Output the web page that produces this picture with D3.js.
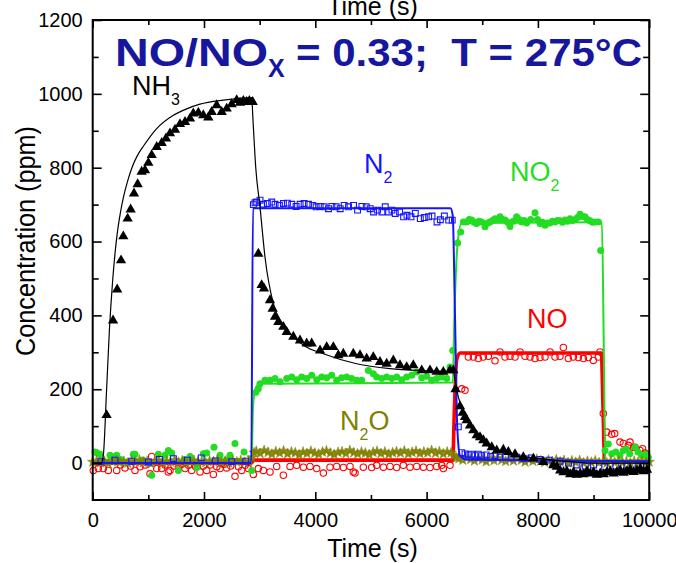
<!DOCTYPE html>
<html>
<head>
<meta charset="utf-8">
<script src="https://cdn.jsdelivr.net/npm/d3@7"></script>
<style>
  html, body { margin: 0; padding: 0; background: #fff; }
  svg { display: block; font-family: "Liberation Sans", Arial, sans-serif; }
</style>
</head>
<body>
<svg id="chart" width="676" height="563"></svg>
<script>
// ---- Axis ticks ----
const xMajor = [0, 2000, 4000, 6000, 8000, 10000];
const xMinor = [1000, 3000, 5000, 7000, 9000];
const xTickLabels = ["0", "2000", "4000", "6000", "8000", "10000"];
const yMajor = [0, 200, 400, 600, 800, 1000, 1200];
const yMinor = [100, 300, 500, 700, 900, 1100];
const yTickLabels = ["0", "200", "400", "600", "800", "1000", "1200"];

// ---- NH3: measured (triangles) and model (line), [time s, ppm] ----
const nh3Points = [
  [250,130],[366,386],[440,470],[509,549],[550,614],[628,662],[682,687],[742,730],[808,755],
  [880,789],[940,793],[1000,813],[1060,834],[1150,856],[1240,867],[1317,879],[1389,893],
  [1479,903],[1569,918],[1659,924],[1749,933],[1808,947],[1898,949],[1987,942],[2077,936],
  [2138,951],[2228,969],[2318,951],[2408,960],[2497,972],[2587,983],[2647,976],[2707,981],
  [2767,978],[2815,981],[2875,978],
  [2976,567],[3036,482],[3078,473],[3186,441],[3234,418],[3276,396],[3336,382],[3425,369],
  [3486,355],[3605,342],[3725,332],[3845,324],[3935,324],[4085,305],[4205,314],[4324,314],
  [4414,292],[4503,296],[4683,296],[4803,292],[4923,283],[5042,287],[5162,274],[5282,269],
  [5402,278],[5522,265],[5642,260],[5761,265],[5912,251],[6061,251],[6181,247],[6301,247],
  [6420,251],[6480,251],
  [6520,200],[6600,154],[6648,136],[6690,125],[6720,116],[6780,102],[6840,89],[6900,75],
  [6960,70],[7019,62],[7079,53],[7170,43],[7260,34],[7379,36],[7469,30],[7589,24],[7738,16],
  [7918,12],[8097,3],[8277,-6],[8340,-10],[8400,-20],[8460,-25],[8520,-22],[8580,-30],
  [8640,-25],[8700,-32],[8760,-28],[8820,-30],[8880,-22],[8940,-28],[9000,-25],[9060,-32],
  [9120,-28],[9180,-30],[9240,-25],[9300,-22],[9360,-28],[9420,-24],[9480,-20],[9540,-26],
  [9600,-22],[9660,-18],[9720,-24],[9780,-20],[9840,-16],[9900,-22],[9960,-18]
];
const nh3Model = [
  [0,0],[150,0],[190,20],[250,200],[300,360],[359,495],[431,610],[500,680],[560,725],
  [630,765],[700,798],[800,832],[910,858],[1150,906],[1450,942],[1700,960],[1928,972],
  [2347,983],[2857,990],[2880,930],[2930,800],[3006,694],[3096,558],[3246,432],[3400,380],
  [3545,351],[3800,318],[4144,296],[4743,269],[5342,256],[6000,250],[6480,247],[6520,215],
  [6570,179],[6700,125],[6840,89],[7000,60],[7140,43],[7440,25],[8038,12],[8636,3],
  [9000,0],[10000,0]
];

// ---- N2 ----
const n2Points = [
  [150,5],[400,8],[700,5],[1000,3],[1200,10],[1450,12],[1700,8],[1950,14],[2200,6],[2500,4],[2750,5],
  [2887,700],[2917,705],[2947,707],[3007,712],[3067,701],[3139,703],[3217,707],[3277,701],
  [3355,698],[3427,703],[3499,704],[3577,701],[3655,695],[3727,701],[3799,703],[3877,701],
  [3955,698],[4015,694],[4087,695],[4159,694],[4237,689],[4297,695],[4375,694],[4447,689],
  [4519,698],[4597,694],[4687,698],[4759,685],[4837,695],[4915,694],[4987,689],[5047,680],
  [5119,685],[5197,680],[5257,694],[5317,680],[5377,685],[5437,676],[5515,680],[5587,667],
  [5647,671],[5719,667],[5797,676],[5887,662],[5959,665],[6037,667],[6097,669],[6187,653],
  [6247,659],[6319,669],[6397,658],[6460,658],
  [6570,98],[6630,28],[6690,25],[6750,22],[6810,24],[6870,20],[6930,24],[6990,20],[7070,22],
  [7150,18],[7230,20],[7320,16],[7420,18],[7520,14],[7620,16],[7750,12],[7880,14],[8030,10],
  [8200,8],[8400,5],[8550,0],[8700,-5],[8850,-8],[9000,-5],[9200,-10],[9400,-8],[9600,-5],
  [9800,-8],[9950,-5]
];
const n2Model = [
  [0,0],[2850,0],[2880,690],[6430,690],[6470,670],[6510,400],[6550,100],[6600,20],
  [6700,10],[10000,5]
];

// ---- NO2 ----
const no2Points = [
  [41,30],[72,28],[131,24],[200,5],[311,21],[341,18],[431,21],[500,10],[600,2],[730,24],
  [760,24],[900,8],[1060,-33],[1180,24],[1299,21],[1359,34],[1419,27],[1539,-20],[1650,10],
  [1749,18],[1869,-12],[1988,25],[2048,27],[2180,43],[2288,21],[2400,8],[2467,21],[2557,53],
  [2600,5],[2719,30],[2857,-20],
  [2934,192],[2976,201],[3006,215],[3096,224],[3186,224],[3276,229],[3366,220],[3486,229],
  [3575,233],[3665,226],[3755,233],[3845,229],[3935,238],[4025,226],[4115,233],[4204,231],
  [4294,238],[4384,224],[4474,231],[4564,233],[4654,229],[4744,224],[4833,224],[4953,251],
  [5043,242],[5103,233],[5193,229],[5283,233],[5373,229],[5463,233],[5552,226],[5642,233],
  [5732,238],[5822,247],[5912,231],[6001,235],[6091,224],[6181,229],[6271,233],[6361,229],
  [6421,260],[6469,305],
  [6558,596],[6612,626],[6660,653],[6720,653],[6765,660],[6810,658],[6855,652],[6900,649],
  [6945,655],[6989,653],[7049,640],[7100,650],[7139,653],[7184,657],[7229,662],[7274,660],
  [7319,667],[7364,660],[7409,658],[7454,652],[7499,641],[7560,655],[7618,667],[7663,660],
  [7708,653],[7753,657],[7798,650],[7870,660],[7948,678],[7993,660],[8038,649],[8083,652],
  [8128,644],[8173,650],[8217,650],[8262,655],[8307,653],[8352,657],[8397,656],[8442,652],
  [8487,658],[8532,655],[8577,662],[8622,657],[8667,660],[8712,665],[8757,674],[8800,668],
  [8846,667],[8890,660],[8936,656],[8980,652],[9026,653],[9086,653],[9128,576],
  [9206,34],[9265,52],[9326,25],[9400,30],[9475,21],[9535,34],[9590,38],[9650,25],
  [9745,43],[9800,30],[9865,21],[9930,24],[9984,16]
];
const no2Model = [
  [0,0],[2855,0],[2880,150],[2920,200],[3000,215],[6470,218],[6500,400],[6560,600],
  [6630,650],[9150,652],[9185,300],[9210,0],[10000,0]
];

// ---- NO ----
const noPoints = [
  [11,-20],[101,-15],[191,-15],[281,-20],[431,-20],[500,-5],[580,-13],[680,-8],[760,-20],
  [850,-10],[940,-5],[1030,-29],[1060,18],[1150,-15],[1239,-15],[1300,-5],[1359,-24],
  [1389,-20],[1460,-8],[1539,-13],[1600,-3],[1659,-15],[1720,-6],[1778,-20],[1850,-10],
  [1928,-24],[1990,-8],[2048,-20],[2110,-5],[2168,-31],[2230,-10],[2288,-15],[2350,-4],
  [2407,-13],[2480,-8],[2557,-36],[2620,-10],[2677,-20],[2740,-6],[2797,-15],[2887,-31],
  [2976,-15],[3066,-20],[3186,-24],[3306,-9],[3426,-33],[3546,-9],[3665,-6],[3785,-11],
  [3905,-9],[4025,-15],[4145,-27],[4264,-11],[4384,-9],[4504,-12],[4624,-9],[4683,-24],
  [4714,-27],[4863,-11],[5013,-12],[5103,-6],[5223,-11],[5343,-9],[5462,-12],[5582,-6],
  [5702,-11],[5822,-9],[5942,-11],[6061,-12],[6181,-9],[6271,-6],[6301,-15],[6421,-6],
  [6630,201],[6690,197],
  [6750,287],[6840,287],[6930,283],[7020,287],[7110,289],[7229,277],[7319,301],[7409,287],
  [7499,289],[7589,287],[7679,301],[7768,289],[7858,287],[7948,283],[8038,286],[8128,287],
  [8218,301],[8308,287],[8397,289],[8457,313],[8547,283],[8637,287],[8727,286],[8817,283],
  [8907,286],[8996,278],[9086,287],[9116,301],
  [9175,134],[9236,84],[9326,78],[9380,80],[9475,57],[9535,53],[9625,48],[9655,57],
  [9715,42],[9745,43],[9835,34],[9880,39],[9924,27],[9955,21]
];
const noModel = [
  [0,0],[2850,0],[2900,8],[6470,8],[6500,150],[6540,280],[6600,298],[9140,298],
  [9170,150],[9200,3],[10000,3]
];

// ---- N2O ----
const n2oPoints = [
  [0,3],[70,6],[140,1],[210,5],[280,-1],[350,4],[420,7],[490,2],[560,5],[630,0],[700,6],
  [770,3],[840,8],[910,2],[980,5],[1050,-2],[1120,4],[1190,7],[1260,1],[1330,5],[1400,3],
  [1470,8],[1540,2],[1610,6],[1680,0],[1750,4],[1820,7],[1890,3],[1960,5],[2030,1],[2100,6],
  [2170,4],[2240,8],[2310,2],[2380,5],[2450,0],[2520,6],[2590,3],[2660,7],[2730,2],[2800,5],
  [2860,15],[2900,28],
  [2940,32],[3010,26],[3080,34],[3150,29],[3220,24],[3290,31],[3360,27],[3430,33],[3500,25],
  [3570,30],[3640,28],[3710,22],[3780,30],[3850,26],[3920,32],[3990,27],[4060,24],[4130,30],
  [4200,33],[4270,27],[4340,23],[4410,29],[4480,31],[4550,26],[4620,34],[4690,28],[4760,25],
  [4830,30],[4900,27],[4970,23],[5040,29],[5110,32],[5180,26],[5250,30],[5320,24],[5390,28],
  [5460,31],[5530,27],[5600,33],[5670,25],[5740,29],[5810,32],[5880,26],[5950,30],[6020,28],
  [6090,34],[6160,27],[6230,31],[6300,25],[6370,30],[6440,28],
  [6500,20],[6540,14],
  [6580,12],[6650,8],[6720,14],[6790,10],[6860,6],[6930,12],[7000,9],[7070,4],[7140,11],
  [7210,7],[7280,13],[7350,8],[7420,5],[7490,10],[7560,6],[7630,12],[7700,8],[7770,3],
  [7840,9],[7910,5],[7980,10],[8050,6],[8120,2],[8190,8],[8260,4],[8330,9],[8400,3],[8470,7],
  [8540,1],[8610,6],[8680,2],[8750,7],[8820,0],[8890,5],[8960,2],[9030,6],[9100,1],[9170,4],
  [9240,0],[9310,5],[9380,2],[9450,6],[9520,1],[9590,4],[9660,0],[9730,5],[9800,2],[9870,6],
  [9940,1],[10000,3]
];

// ---- Colours ----
const C = { nh3: "#000000", n2: "#1414ff", no2: "#22dd22", no: "#ff0000", n2o: "#808000", title: "#16169e" };

const svg = d3.select("#chart");
const plot = { left: 92.7, right: 649.2, top: 20, bottom: 500 };

const x = d3.scaleLinear().domain([0, 10000]).range([plot.left, plot.right]);
const y = d3.scaleLinear().domain([-100, 1200]).range([plot.bottom, plot.top]);

const line = d3.line().x(d => x(d[0])).y(d => y(d[1])).curve(d3.curveMonotoneX);

const data = svg.append("g");

function drawLine(pts, color, width) {
  data.append("path").datum(pts)
    .attr("d", line).attr("fill", "none")
    .attr("stroke", color).attr("stroke-width", width)
    .attr("stroke-linejoin", "round");
}
function drawSymbols(pts, type, size, fill, stroke, sw, opacity) {
  data.append("g").selectAll("path").data(pts).join("path")
    .attr("transform", d => `translate(${x(d[0])},${y(d[1])})`)
    .attr("d", d3.symbol().type(type).size(size))
    .attr("fill", fill).attr("stroke", stroke).attr("stroke-width", sw)
    .attr("opacity", opacity);
}

// NO: open circles and thick model line
data.append("g").selectAll("circle").data(noPoints).join("circle")
  .attr("cx", d => x(d[0])).attr("cy", d => y(d[1])).attr("r", 3.2)
  .attr("fill", "none").attr("stroke", C.no).attr("stroke-width", 1.1);
drawLine(noModel, C.no, 3.6);

// NO2: filled dots and model line
data.append("g").selectAll("circle").data(no2Points).join("circle")
  .attr("cx", d => x(d[0])).attr("cy", d => y(d[1])).attr("r", 3.5)
  .attr("fill", C.no2);
drawLine(no2Model, C.no2, 2);

// N2O: dense small stars
drawSymbols(n2oPoints, d3.symbolStar, 34, C.n2o, C.n2o, 0.6, 0.9);

// N2: open squares and model line
drawSymbols(n2Points, d3.symbolSquare, 34, "none", C.n2, 1.1, 1);
drawLine(n2Model, C.n2, 2);

// NH3: filled triangles and model line
drawSymbols(nh3Points, d3.symbolTriangle, 46, C.nh3, "none", 0, 1);
drawLine(nh3Model, C.nh3, 1.2);

// ---- Axes (ticks point inward, frame drawn separately) ----
function tidy(g, withText) {
  g.select(".domain").remove();
  g.selectAll(".tick line").attr("stroke", "#000").attr("stroke-width", 1.6);
  if (withText) g.selectAll(".tick text").attr("font-size", 20).attr("fill", "#000");
  else g.selectAll(".tick text").remove();
}
svg.append("g").attr("transform", `translate(0,${plot.bottom})`)
  .call(d3.axisBottom(x).tickValues(xMajor).tickFormat((d, i) => xTickLabels[i]).tickSize(-8).tickPadding(13))
  .call(g => tidy(g, true));
svg.append("g").attr("transform", `translate(0,${plot.bottom})`)
  .call(d3.axisBottom(x).tickValues(xMinor).tickSize(-5)).call(g => tidy(g, false));
svg.append("g").attr("transform", `translate(0,${plot.top})`)
  .call(d3.axisTop(x).tickValues(xMajor).tickSize(-8)).call(g => tidy(g, false));
svg.append("g").attr("transform", `translate(0,${plot.top})`)
  .call(d3.axisTop(x).tickValues(xMinor).tickSize(-5)).call(g => tidy(g, false));

svg.append("g").attr("transform", `translate(${plot.left},0)`)
  .call(d3.axisLeft(y).tickValues(yMajor).tickFormat((d, i) => yTickLabels[i]).tickSize(-9).tickPadding(10))
  .call(g => tidy(g, true));
svg.append("g").attr("transform", `translate(${plot.left},0)`)
  .call(d3.axisLeft(y).tickValues(yMinor).tickSize(-6)).call(g => tidy(g, false));
svg.append("g").attr("transform", `translate(${plot.right},0)`)
  .call(d3.axisRight(y).tickValues(yMajor).tickSize(-9)).call(g => tidy(g, false));
svg.append("g").attr("transform", `translate(${plot.right},0)`)
  .call(d3.axisRight(y).tickValues(yMinor).tickSize(-6)).call(g => tidy(g, false));

svg.append("rect")
  .attr("x", plot.left).attr("y", plot.top)
  .attr("width", plot.right - plot.left).attr("height", plot.bottom - plot.top)
  .attr("fill", "none").attr("stroke", "#000").attr("stroke-width", 2);

// ---- Axis titles ----
const axisTitle = (tx, ty) => svg.append("text").attr("x", tx).attr("y", ty)
  .attr("text-anchor", "middle").attr("font-size", 25).attr("fill", "#000").text("Time (s)");
axisTitle(372.5, 557);
axisTitle(372.5, 15);

svg.append("text")
  .attr("transform", "translate(35,241) rotate(-90)")
  .attr("text-anchor", "middle").attr("font-size", 27).attr("fill", "#000")
  .attr("textLength", 230).attr("lengthAdjust", "spacingAndGlyphs")
  .text("Concentration (ppm)");

// ---- Heading ----
const head = svg.append("g").attr("fill", C.title).attr("font-weight", "bold");
head.append("text").attr("x", 115).attr("y", 66).attr("font-size", 38)
  .attr("textLength", 153).attr("lengthAdjust", "spacingAndGlyphs").text("NO/NO");
head.append("text").attr("x", 268).attr("y", 77).attr("font-size", 25).text("X");
head.append("text").attr("x", 296).attr("y", 66).attr("font-size", 38)
  .attr("textLength", 346).attr("lengthAdjust", "spacingAndGlyphs")
  .text("= 0.33;\u00A0 T = 275°C");

// ---- Species labels: main text, subscript, optional trailing text ----
function species(px, py, main, sub, tail, color) {
  const t = svg.append("text").attr("x", px).attr("y", py)
    .attr("font-size", 27).attr("fill", color);
  t.append("tspan").text(main);
  t.append("tspan").attr("font-size", 16).attr("dy", 10).text(sub);
  if (tail) t.append("tspan").attr("dy", -10).text(tail);
}
species(132, 95, "NH", "3", "", C.nh3);
species(364, 173, "N", "2", "", C.n2);
species(510, 181, "NO", "2", "", C.no2);
species(527, 328, "NO", "", "", C.no);
species(340, 430, "N", "2", "O", C.n2o);
</script>
</body>
</html>
